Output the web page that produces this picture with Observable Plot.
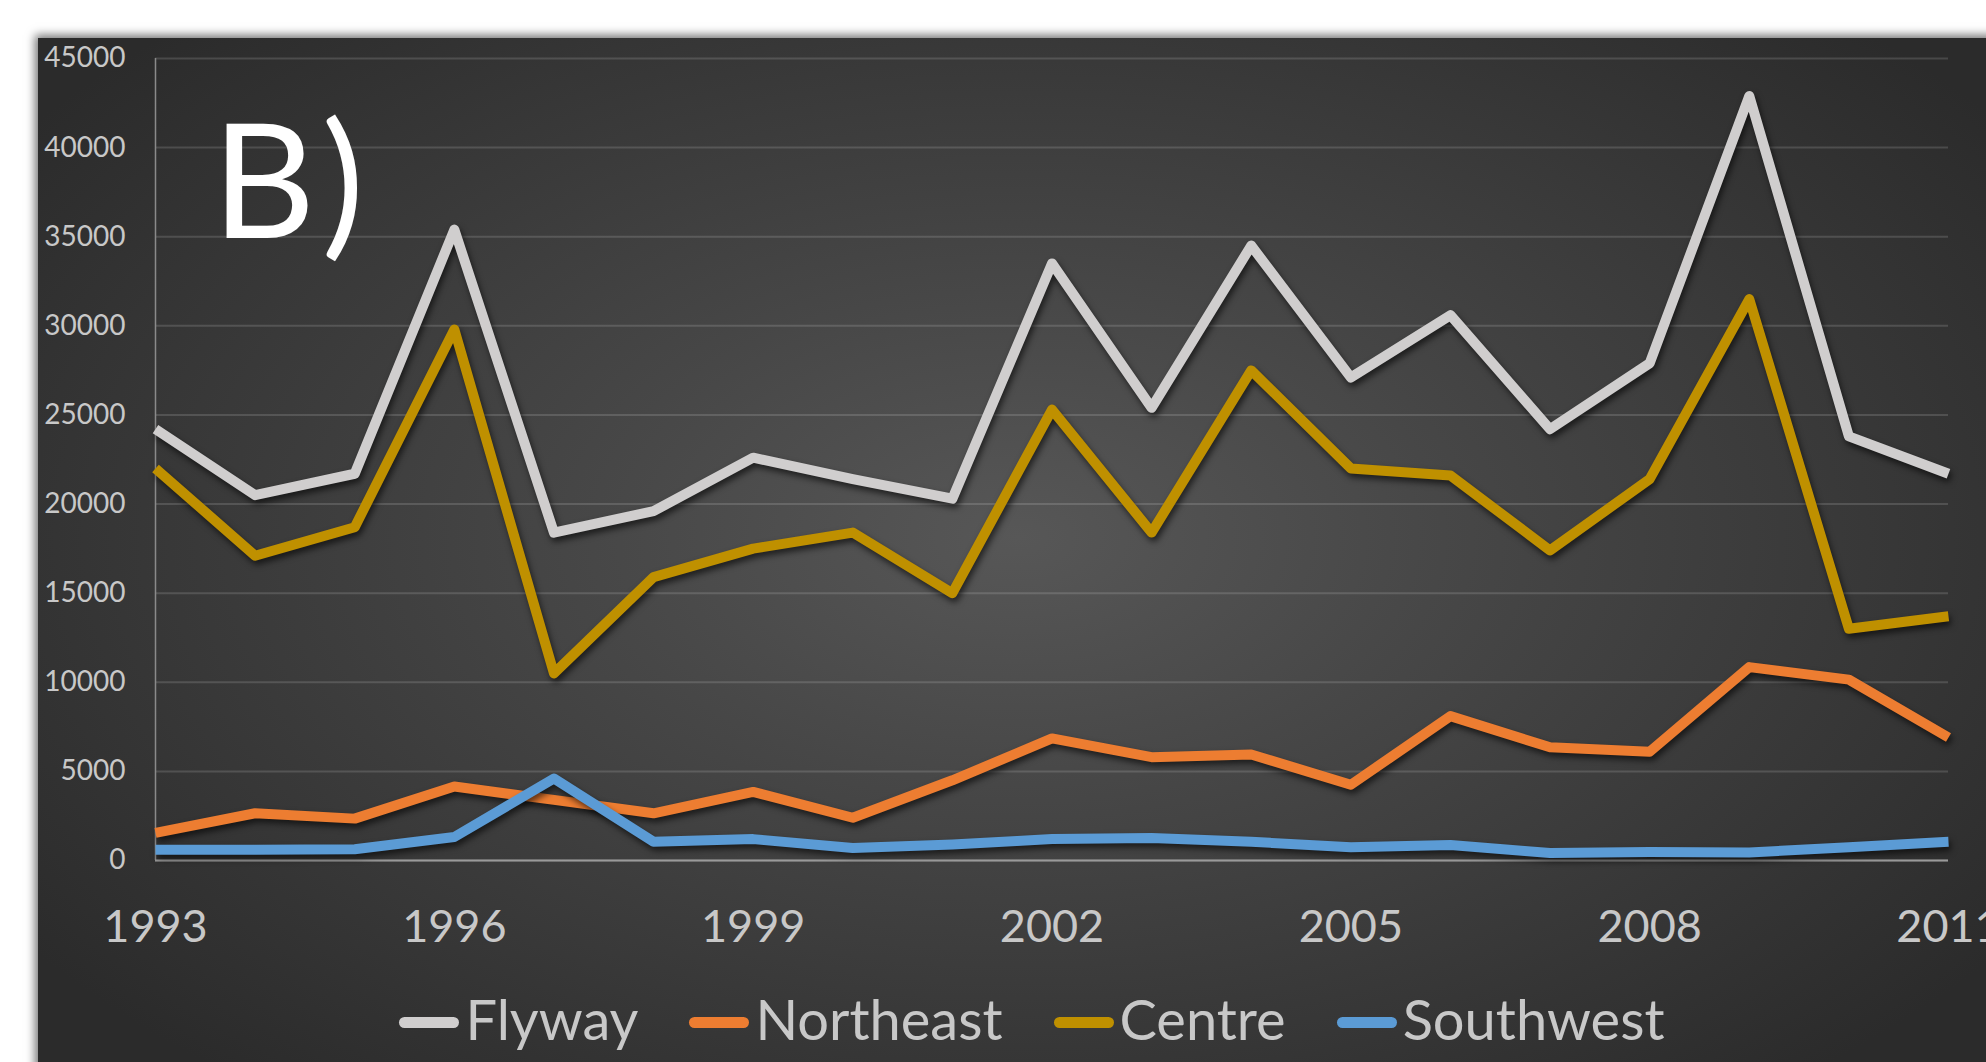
<!DOCTYPE html>
<html>
<head>
<meta charset="utf-8">
<script src="https://cdn.jsdelivr.net/npm/d3@7"></script>
<script src="https://cdn.jsdelivr.net/npm/@observablehq/plot@0.6"></script>
<style>
  html, body { margin: 0; padding: 0; background: #ffffff; width: 1986px; height: 1062px; overflow: hidden; }
  #panel {
    position: absolute; left: 38px; top: 38px; width: 1960px; height: 1040px;
    background: radial-gradient(ellipse 62% 68% at 50% 48%, #575757 0%, #474747 35%, #2b2b2b 100%);
    box-shadow: 0 0 9px 3px rgba(0,0,0,0.55);
  }
  #chart { position: absolute; left: 0; top: 0; }
  #chart g[aria-label="line"] path { filter: drop-shadow(2px 4px 3px rgba(0,0,0,0.6)); }
  #tag {
    position: absolute; left: 212px; top: 96px; color: #ffffff;
    font-family: Lato, "Open Sans", sans-serif; font-size: 160px; line-height: 1; letter-spacing: 6px;
  }
  #legend {
    position: absolute; left: 0; width: 2064px; top: 991px;
    display: flex; justify-content: center; align-items: center; gap: 51px;
    font-family: Lato, "Open Sans", sans-serif; font-size: 56px; line-height: 1; color: #c8c8c8;
  }
  .item { display: flex; align-items: center; gap: 6px; }
  .sw { width: 60px; height: 11px; border-radius: 6px; margin-top: 6px; }
</style>
</head>
<body>
<div id="panel"></div>
<div id="chart"></div>
<div id="tag">B)</div>
<div id="legend"></div>
<script>
const years = [1993,1994,1995,1996,1997,1998,1999,2000,2001,2002,2003,2004,2005,2006,2007,2008,2009,2010,2011];
const flyway    = [24200,20500,21700,35400,18400,19600,22600,21400,20300,33500,25400,34500,27100,30600,24200,27900,42900,23800,21700];
const northeast = [1550,2650,2350,4150,3400,2650,3850,2400,4500,6850,5800,5950,4250,8100,6350,6100,10850,10150,6900];
const centre    = [22000,17100,18700,29800,10500,15900,17500,18400,15000,25300,18400,27500,22000,21600,17400,21400,31500,13000,13700];
const southwest = [600,600,630,1320,4600,1050,1200,700,900,1200,1260,1050,750,870,420,470,450,750,1050];
const seriesNames = ["Flyway","Northeast","Centre","Southwest"];
const seriesColors = ["#d0cece","#ed7d31","#bf9000","#5b9bd5"];
const yTicks = [0,5000,10000,15000,20000,25000,30000,35000,40000,45000];
const xTicks = [1993,1996,1999,2002,2005,2008,2011];

const seriesValues = [flyway, northeast, centre, southwest];
const data = seriesNames.flatMap((s, i) => years.map((yr, j) => ({year: yr, value: seriesValues[i][j], series: s})));

const chart = Plot.plot({
  width: 1986,
  height: 1000,
  marginLeft: 155,
  marginRight: 38,
  marginTop: 58,
  marginBottom: 140,
  style: {background: "transparent", color: "#c8c8c8", fontFamily: "Lato, 'Open Sans', sans-serif"},
  x: {domain: [1993, 2011]},
  y: {domain: [0, 45000]},
  color: {domain: seriesNames, range: seriesColors},
  marks: [
    Plot.gridY(yTicks, {stroke: "#ffffff", strokeOpacity: 0.14, strokeWidth: 2}),
    Plot.ruleX([1993], {stroke: "#8a8a8a", strokeWidth: 1.5}),
    Plot.ruleY([0], {stroke: "#9a9a9a", strokeWidth: 2}),
    Plot.axisY(yTicks, {tickSize: 0, tickPadding: 30, fontSize: 28, tickFormat: d => String(d), label: null, fill: "#c8c8c8"}),
    Plot.axisX(xTicks, {tickSize: 0, tickPadding: 50, fontSize: 45, tickFormat: d => String(d), label: null, fill: "#c8c8c8"}),
    Plot.line(data, {x: "year", y: "value", z: "series", stroke: "series", strokeWidth: 10, strokeLinejoin: "round", strokeLinecap: "butt"})
  ]
});
document.getElementById("chart").appendChild(chart);

const legend = document.getElementById("legend");
seriesNames.forEach((name, i) => {
  const item = document.createElement("div");
  item.className = "item";
  const sw = document.createElement("div");
  sw.className = "sw";
  sw.style.background = seriesColors[i];
  const label = document.createElement("span");
  label.textContent = name;
  item.appendChild(sw);
  item.appendChild(label);
  legend.appendChild(item);
});
</script>
</body>
</html>
